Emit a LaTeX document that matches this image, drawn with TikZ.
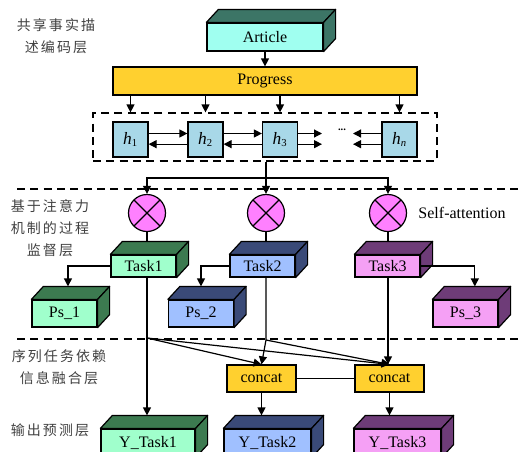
\documentclass[tikz,border=0pt]{standalone}
\usepackage{fontspec}
\setmainfont{Liberation Serif}
\newfontfamily\cnfont[LetterSpace=15]{Noto Sans CJK SC}
\usepackage{tikz}
\usetikzlibrary{positioning,arrows.meta}

\definecolor{artfront}{HTML}{A0FFF0}
\definecolor{artside}{HTML}{3C7566}
\definecolor{yel}{HTML}{FFD02F}
\definecolor{hblue}{HTML}{A8D8E8}
\definecolor{attpink}{HTML}{FF80FF}
\definecolor{tafront}{HTML}{A0FFCC}
\definecolor{taside}{HTML}{3C7A50}
\definecolor{tbfront}{HTML}{A0C0FF}
\definecolor{tbside}{HTML}{3A4A78}
\definecolor{tcfront}{HTML}{F5A0F5}
\definecolor{tcside}{HTML}{6E3C78}

% top and side faces of a box node
\newcommand{\boxfaces}[2]{%
	\filldraw[fill=#2, draw=black, line width=0.9pt, line join=round] (#1.north west) -- ++(12,-13) -- ([shift={(12,-13)}]#1.north east) -- (#1.north east) -- cycle;
	\filldraw[fill=#2, draw=black, line width=0.9pt, line join=round] (#1.north east) -- ++(12,-13) -- ([shift={(12,-13)}]#1.south east) -- (#1.south east) -- cycle;}
\newcommand{\hlab}[1]{{\fontsize{13}{14}\selectfont\textit{h}}\textsubscript{#1}}

\begin{document}
\begin{tikzpicture}[
		x=0.75pt, y=-0.75pt,
		font=\fontsize{12}{14}\selectfont,
		cubefront/.style={rectangle, draw=black, fill=#1, line width=0.9pt, inner sep=0pt},
		hcell/.style={rectangle, draw=black, fill=hblue, line width=0.9pt, minimum size=26.25pt, inner sep=0pt},
		att/.style={circle, draw=black, fill=attpink, line width=0.9pt, minimum size=27.75pt, inner sep=0pt,
			path picture={\draw[line width=0.9pt] (path picture bounding box.north west) -- (path picture bounding box.south east)
				(path picture bounding box.north east) -- (path picture bounding box.south west);}},
		layer/.style={font=\cnfont\fontsize{10.5}{16.5}\selectfont, text=black!75, align=center},
		arrow/.style={-{Triangle[length=6pt, width=6pt]}, line width=0.9pt},
		plain/.style={line width=0.9pt},
		sepline/.style={dash pattern=on 6pt off 4pt, line width=0.9pt}
		]
		\useasboundingbox (0,0) rectangle (519,451);
		
		%==================== Layer labels ====================%
		\node[layer] (lblenc) at (56,36) {共享事实描\\述编码层};
		\node[layer] (lblsup) at (50,228) {基于注意力\\机制的过程\\监督层};
		\node[layer] (lblfus) at (59,367) {序列任务依赖\\信息融合层};
		\node[layer] (lblout) at (50,430) {输出预测层};
		
		%==================== Separators ====================%
		\coordinate (sepA) at (17,189);
		\coordinate (sepB) at (519,189);
		\coordinate (sepC) at (17,339);
		\coordinate (sepD) at (519,339);
		\draw[sepline] (sepA) -- (sepB);
		\draw[sepline] (sepC) -- (sepD);
		
		%==================== Encoder ====================%
		\node[cubefront=artfront, minimum width=87pt, minimum height=21pt] (article) at (265,37) {Article};
		\node[cubefront=yel, minimum width=228pt, minimum height=21pt] (progress) at (265,81) {Progress};
		\node[draw, sepline, minimum width=258pt, minimum height=36pt] (hbox) at (265,137) {};
		\node[hcell] (h1) at (130.5,139.5) {\hlab{1}};
		\node[hcell] (h2) at (205.5,139.5) {\hlab{2}};
		\node[hcell] (h3) at (280,139.5) {\hlab{3}};
		\node[hcell] (hn) at (399.5,139.5) {\hlab{\textit{n}}};
		\node (hdots) at (342,130) {\fontsize{8}{8}\selectfont\textbf{...}};
		\coordinate (h3end) at (322,139.5);
		\coordinate (hnend) at (353,139.5);
		
		%==================== Attention ====================%
		\node[att] (att1) at (147,213) {};
		\node[att] (att2) at (266,213) {};
		\node[att] (att3) at (388,213) {};
		\node[right=5pt of att3] (selfatt) {Self-attention};
		
		\node[cubefront=tafront, minimum width=48.75pt, minimum height=16.5pt] (task1) at (143.5,266) {Task1};
		\node[cubefront=tbfront, minimum width=48.75pt, minimum height=16.5pt] (task2) at (262.5,266) {Task2};
		\node[cubefront=tcfront, minimum width=48.75pt, minimum height=16.5pt] (task3) at (387.5,266) {Task3};
		
		\node[cubefront=tafront, minimum width=48.75pt, minimum height=20.25pt] (ps1) at (64.5,313.5) {Ps\_1};
		\node[cubefront=tbfront, minimum width=48.75pt, minimum height=20.25pt] (ps2) at (201,313.5) {Ps\_2};
		\node[cubefront=tcfront, minimum width=48.75pt, minimum height=20.25pt] (ps3) at (465.5,313.5) {Ps\_3};
		
		%==================== Fusion and output ====================%
		\node[cubefront=yel, minimum width=51.75pt, minimum height=20.25pt] (concat1) at (261.5,378.5) {concat};
		\node[cubefront=yel, minimum width=51.75pt, minimum height=20.25pt] (concat2) at (389.5,378.5) {concat};
		
		\node[cubefront=tafront, minimum width=70.5pt, minimum height=21pt] (ytask1) at (148,443) {Y\_Task1};
		\node[cubefront=tbfront, minimum width=65.25pt, minimum height=21pt] (ytask2) at (267.5,443) {Y\_Task2};
		\node[cubefront=tcfront, minimum width=65.25pt, minimum height=21pt] (ytask3) at (397.5,443) {Y\_Task3};
		
		\boxfaces{article}{artside}
		\boxfaces{task1}{taside}
		\boxfaces{task2}{tbside}
		\boxfaces{task3}{tcside}
		\boxfaces{ps1}{taside}
		\boxfaces{ps2}{tbside}
		\boxfaces{ps3}{tcside}
		\boxfaces{ytask1}{taside}
		\boxfaces{ytask2}{tbside}
		\boxfaces{ytask3}{tcside}
		
		%==================== Arrows ====================%
		\draw[arrow] (article) -- (progress);
		\foreach \c in {h1,h2,h3,hn}
			\draw[arrow] (progress.south -| \c) -- (hbox.north -| \c);
		
		\draw[arrow] ([yshift=4.5pt]h1.east) -- ([yshift=4.5pt]h2.west);
		\draw[arrow] ([yshift=-3.5pt]h2.west) -- ([yshift=-3.5pt]h1.east);
		\draw[arrow] ([yshift=4.5pt]h2.east) -- ([yshift=4.5pt]h3.west);
		\draw[arrow] ([yshift=-3.5pt]h3.west) -- ([yshift=-3.5pt]h2.east);
		\draw[arrow] ([yshift=4.5pt]h3.east) -- ([yshift=4.5pt]h3end);
		\draw[arrow] ([yshift=-3.5pt]h3.east) -- ([yshift=-3.5pt]h3end);
		\draw[arrow] ([yshift=4.5pt]hn.west) -- ([yshift=4.5pt]hnend);
		\draw[arrow] ([yshift=-3.5pt]hn.west) -- ([yshift=-3.5pt]hnend);
		
		\coordinate (split) at (266,178);
		\draw[plain] (hbox.south -| att2) -- (split);
		\draw[arrow] (split) -- (att2);
		\draw[arrow] (split) -| (att1);
		\draw[arrow] (split) -| (att3);
		
		\foreach \i in {1,2,3}
			\draw[plain] (att\i) -- ([yshift=9.75pt]task\i.north -| att\i);
		
		\draw[arrow] (task1.west) -| ([xshift=2.6pt,yshift=9.75pt]ps1.north);
		\draw[arrow] (task2.west) -| ([yshift=9.75pt]ps2.north);
		\draw[arrow] (task3.east) -| ([xshift=7pt,yshift=9.75pt]ps3.north);
		
		\coordinate (b1) at (147,338);
		\coordinate (b2) at (266,340);
		\draw[arrow] (task1.south -| att1) -- ([yshift=9.75pt]ytask1.north -| att1);
		\draw[arrow] (b1) -- (concat1.north);
		\draw[arrow] (b1) -- (concat2.north);
		\draw[arrow] (task2.south -| att2) -- (b2) -- (concat1.north);
		\draw[arrow] (b2) -- (concat2.north);
		\draw[arrow] (task3.south -| att3) -- (att3 |- concat2.north);
		\draw[plain] (concat1) -- (concat2);
		\draw[arrow] (concat1) -- ([yshift=9.75pt]ytask2.north -| concat1);
		\draw[arrow] (concat2) -- ([yshift=9.75pt]ytask3.north -| concat2);
		
	\end{tikzpicture}
\end{document}
